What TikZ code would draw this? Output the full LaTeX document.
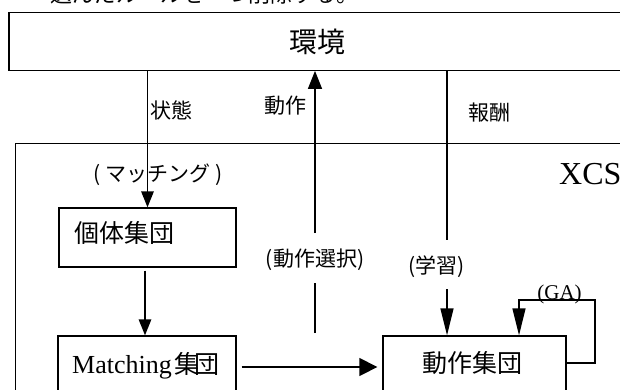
\documentclass[tikz,border=0pt]{standalone}
\usepackage{fontspec}
\setmainfont{Liberation Serif}
\newfontfamily\jp{Noto Sans CJK JP}
\usetikzlibrary{arrows.meta}
\tikzset{
  box/.style={draw, line width=1.3pt, inner sep=0pt},
  ln/.style={line width=1.3pt},
  arrS/.style={ln, -{Triangle[length=16pt,width=12.5pt]}},
  arrM/.style={ln, -{Triangle[length=18pt,width=14pt]}},
  arrW/.style={ln, -{Triangle[length=18pt,width=18pt]}},
  arrL/.style={ln, -{Triangle[length=27pt,width=13pt]}},
  jpA/.style={inner sep=0pt, font=\jp\fontsize{21}{21}\selectfont},
  jpB/.style={inner sep=0pt, font=\jp\fontsize{25}{25}\selectfont},
  jpC/.style={inner sep=0pt, font=\jp\fontsize{22}{22}\selectfont},
}
\begin{document}
\begin{tikzpicture}[x=1pt, y=-1pt]
\useasboundingbox (0,0) rectangle (620,389);
\clip (0,0) rectangle (620,389);

% top note (cut off by the frame)
\node[jpC, anchor=base west] (note) at (50,2) {選んだルールを一つ削除する。};

% environment
\node[box, minimum width=616pt, minimum height=57.5pt,
      font=\jp\fontsize{28}{28}\selectfont] (env) at (317,41.5) {環境};

% XCS container
\node[box, minimum width=640pt, minimum height=290pt, anchor=north west] (xcs) at (15,143) {};
\node[inner sep=0pt, anchor=west, font=\fontsize{32}{32}\selectfont] (xcst) at (559,174) {XCS};

% boxes
\node[box, minimum width=177pt, minimum height=59pt] (pop) at (147.5,237.5) {};
\node[jpB, anchor=west] (popt) at (74,233) {個体集団};

\node[box, minimum width=178pt, minimum height=60pt] (match) at (147,366) {};
\node[inner sep=0pt, anchor=base west] (matcht) at (72,373)
  {\fontsize{26}{26}\selectfont Matching\hspace{3pt}{\jp\fontsize{25}{25}\selectfont 集\kern-5pt団}};

\node[box, minimum width=183pt, minimum height=60pt] (act) at (474.5,366) {};
\node[jpB] (actt) at (472.5,363) {動作集団};

% labels
\node[jpA] (lstate) at (171,110) {状態};
\node[jpA] (lact) at (285,106) {動作};
\node[jpA] (lrew) at (489,113) {報酬};
\node[jpA] (lmatch) at (158.5,175) {(\hspace{5pt}マッチング\hspace{5pt})};
\node[jpA] (lsel) at (315,260) {(動作選択)};
\node[jpA] (llearn) at (436.5,267) {(学習)};
\node[inner sep=0pt, anchor=base, font=\fontsize{21}{21}\selectfont] (lga) at (559.5,299.5) {(GA)};

% coordinates
\coordinate (a1) at (315,333);
\coordinate (a2) at (315,283);
\coordinate (a3) at (315,233);
\coordinate (r1) at (447,240);
\coordinate (r2) at (447,289);
\coordinate (ga) at (595,300);

% connectors
\draw[arrS] (env.south -| pop.north) -- (pop.north);
\draw[ln] (a1) -- (a2);
\draw[arrM] (a3) -- (a3 |- env.south);
\draw[ln] (r1 |- env.south) -- (r1);
\draw[arrL] (r2) -- (r2 |- act.north);
\draw[arrS, shorten <=3pt] ([xshift=-2.5pt]pop.south) -- ([xshift=-2pt]match.north);
\draw[arrW, shorten <=5pt, shorten >=5pt] ([yshift=-1pt]match.east) -- ([yshift=-1pt]act.west);
\draw[arrL] ([yshift=3pt]act.east) -| (ga) -| ([xshift=44.5pt]act.north);
\end{tikzpicture}
\end{document}
